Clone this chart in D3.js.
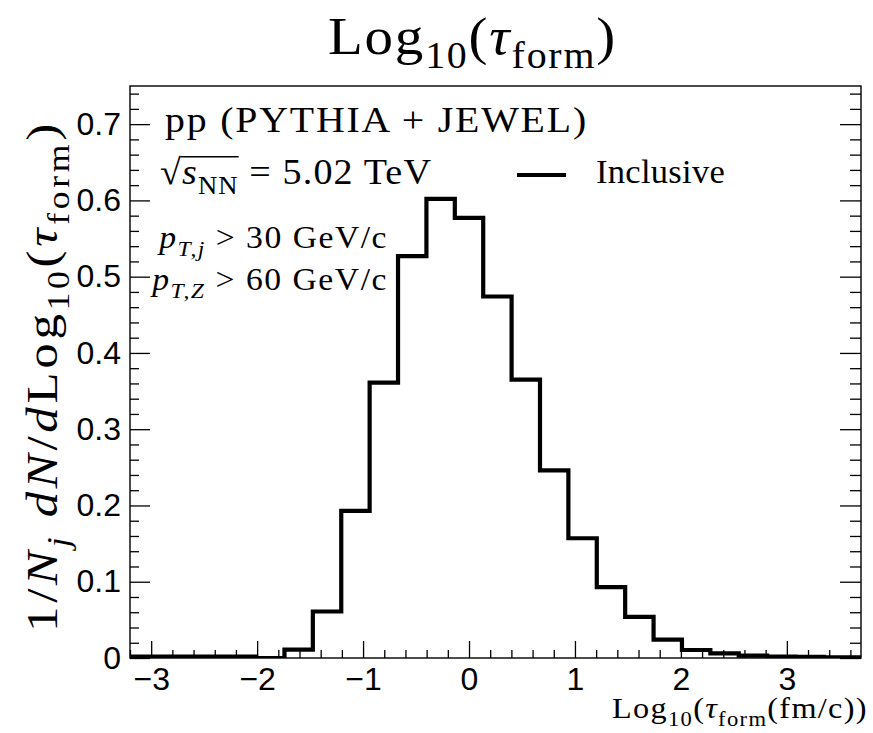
<!DOCTYPE html>
<html><head><meta charset="utf-8">
<script src="https://cdn.jsdelivr.net/npm/d3@7"></script>
<style>body{margin:0;background:#fff}svg text{white-space:pre}</style>
</head><body><svg id="c" width="873" height="733"></svg>
<script>
// ---- data ----
const binEdges = [-3.350,-3.082,-2.814,-2.546,-2.278,-2.010,-1.742,-1.474,-1.206,-0.938,-0.670,-0.402,-0.134,
  0.134,0.402,0.670,0.938,1.206,1.474,1.742,2.010,2.278,2.546,2.814,3.082,3.350,3.618,3.886];
const binValues = [0.002,0.002,0.002,0.002,0.002,0.0,0.011,0.061,0.193,0.361,0.527,0.602,0.577,
  0.474,0.365,0.246,0.157,0.093,0.054,0.024,0.0105,0.006,0.003,0.002,0.0015,0.001,0.001];
const xMajorTicks = [-3,-2,-1,0,1,2,3];
const xTickLabels = ["\u22123","\u22122","\u22121","0","1","2","3"];
const yMajorTicks = [0,0.1,0.2,0.3,0.4,0.5,0.6,0.7];
const yTickLabels = ["0","0.1","0.2","0.3","0.4","0.5","0.6","0.7"];
const xDomain = [-3.2,3.7];
const yDomain = [0,0.75];
const legendLabel = "Inclusive";

// ---- layout ----
const L=130,R=861,T=86,B=658;
const svg=d3.select('#c');
const x=d3.scaleLinear().domain(xDomain).range([L,R]);
const y=d3.scaleLinear().domain(yDomain).range([B,T]);
const serif="'Liberation Serif','Times New Roman',serif";
const sans="'Liberation Sans',Arial,Helvetica,sans-serif";

svg.append('defs').append('clipPath').attr('id','fr').append('rect')
  .attr('x',L).attr('y',T).attr('width',R-L).attr('height',B-T);

const xMinor=d3.range(-3.2,3.71,0.2).map(v=>+v.toFixed(2)).filter(v=>!xMajorTicks.includes(Math.round(v*10)/10));
const yMinor=d3.range(0,0.751,0.02).map(v=>+v.toFixed(2)).filter(v=>Math.abs(v*10-Math.round(v*10))>1e-6);

function styleAxis(g){g.select('.domain').remove();g.selectAll('.tick line').attr('stroke','#000').attr('stroke-width',1.3);}

// bottom axis
svg.append('g').attr('transform',`translate(0,${B})`)
  .call(d3.axisBottom(x).tickValues(xMajorTicks).tickSize(-17).tickPadding(9).tickFormat((d,i)=>xTickLabels[i]))
  .call(styleAxis).call(g=>g.selectAll('text').attr('font-family',sans).attr('font-size',32).attr('fill','#000'));
svg.append('g').attr('transform',`translate(0,${B})`)
  .call(d3.axisBottom(x).tickValues(xMinor).tickSize(-8).tickFormat(''))
  .call(styleAxis);
// left axis
svg.append('g').attr('transform',`translate(${L},0)`)
  .call(d3.axisLeft(y).tickValues(yMajorTicks).tickSize(-20).tickPadding(9).tickFormat((d,i)=>yTickLabels[i]))
  .call(styleAxis).call(g=>g.selectAll('text').attr('font-family',sans).attr('font-size',32).attr('fill','#000'));
svg.append('g').attr('transform',`translate(${L},0)`)
  .call(d3.axisLeft(y).tickValues(yMinor).tickSize(-9).tickFormat(''))
  .call(styleAxis);
// right axis
svg.append('g').attr('transform',`translate(${R},0)`)
  .call(d3.axisRight(y).tickValues(yMajorTicks).tickSize(-21).tickFormat(''))
  .call(styleAxis);
svg.append('g').attr('transform',`translate(${R},0)`)
  .call(d3.axisRight(y).tickValues(yMinor).tickSize(-11).tickFormat(''))
  .call(styleAxis);

// frame
svg.append('rect').attr('x',L).attr('y',T).attr('width',R-L).attr('height',B-T)
  .attr('fill','none').attr('stroke','#000').attr('stroke-width',1.4);

// histogram
const pts=binValues.map((v,i)=>[binEdges[i],v]);
pts.push([binEdges[binEdges.length-1],binValues[binValues.length-1]]);
svg.append('path').attr('clip-path','url(#fr)')
  .attr('d',d3.line().x(d=>x(d[0])).y(d=>y(d[1])).curve(d3.curveStepAfter)(pts))
  .attr('fill','none').attr('stroke','#000').attr('stroke-width',4.2).attr('stroke-linejoin','miter');

// ---- rich text helper ----
function build(g,segs,size,ls){
  g.selectAll('*').remove();
  const t=g.append('text').attr('font-family',serif).attr('font-size',size).attr('fill','#000')
    .attr('letter-spacing',ls||0);
  let sub=false;
  segs.forEach(s=>{
    const ts=t.append('tspan').text(s.t);
    if(s.i) ts.attr('font-style','italic');
    ts.attr('font-size',s.s?size*0.7:size);
    if(s.s&&!sub){ts.attr('dy',size*0.27);sub=true;}
    else if(!s.s&&sub){ts.attr('dy',-size*0.27);sub=false;}
  });
  return t;
}
function rich(segs,size,px,py,anchor,width,rot,extra){
  const g=svg.append('g');
  let t=build(g,segs,size);
  let bb=t.node().getBBox();
  const r=width/bb.width;
  if(r>1){
    size=size*Math.pow(r,0.4); t=build(g,segs,size); bb=t.node().getBBox();
    const n=segs.reduce((a,s)=>a+s.t.length,0);
    const ls=Math.max(0,(width-bb.width)*0.5/n);
    t=build(g,segs,size,ls); bb=t.node().getBBox();
  }
  const sx=width/bb.width;
  if(extra) extra(g,t,size);
  let off=-bb.x;
  if(anchor==='end') off=-(bb.x+bb.width);
  if(anchor==='middle') off=-(bb.x+bb.width/2);
  g.attr('transform',`translate(${px},${py}) rotate(${rot||0}) scale(${sx},1) translate(${off},0)`);
  return g;
}

// title
rich([{t:'Log'},{t:'10',s:1},{t:'('},{t:'\u03C4',i:1},{t:'form',s:1},{t:')'}],48,328,54,'start',289);

// pp (PYTHIA + JEWEL)
rich([{t:'pp (PYTHIA + JEWEL)'}],33,165,132,'start',423);

// sqrt s_NN
rich([{t:'\u221A'},{t:'s',i:1},{t:'NN',s:1},{t:' = 5.02 TeV'}],33,160,184,'start',272,0,(g,t,size)=>{
  const n=t.node();
  const e0=n.getExtentOfChar(0), e3=n.getExtentOfChar(3);
  g.append('line').attr('x1',e0.x+e0.width-1.5).attr('x2',e3.x+e3.width)
    .attr('y1',-size*0.76).attr('y2',-size*0.76).attr('stroke','#000').attr('stroke-width',1.5);
});

// legend
svg.append('line').attr('x1',517).attr('x2',566).attr('y1',175).attr('y2',175)
  .attr('stroke','#000').attr('stroke-width',4.2);
rich([{t:legendLabel}],33,596,183,'start',129);

// cuts
rich([{t:'p',i:1},{t:'T,j',s:1,i:1},{t:' > 30 GeV/c'}],27,388,248,'end',231);
rich([{t:'p',i:1},{t:'T,Z',s:1,i:1},{t:' > 60 GeV/c'}],27,388,290,'end',238);

// y title
rich([{t:'1/'},{t:'N',i:1},{t:'j',s:1,i:1},{t:' d',i:1},{t:'N',i:1},{t:'/'},{t:'d',i:1},{t:'Log'},{t:'10',s:1},{t:'('},{t:'\u03C4',i:1},{t:'form',s:1},{t:')'}],36,
  57,376,'middle',512,-90);

// x title
rich([{t:'Log'},{t:'10',s:1},{t:'('},{t:'\u03C4',i:1},{t:'form',s:1},{t:'(fm/c))'}],26,868,718,'end',256);
</script></body></html>
